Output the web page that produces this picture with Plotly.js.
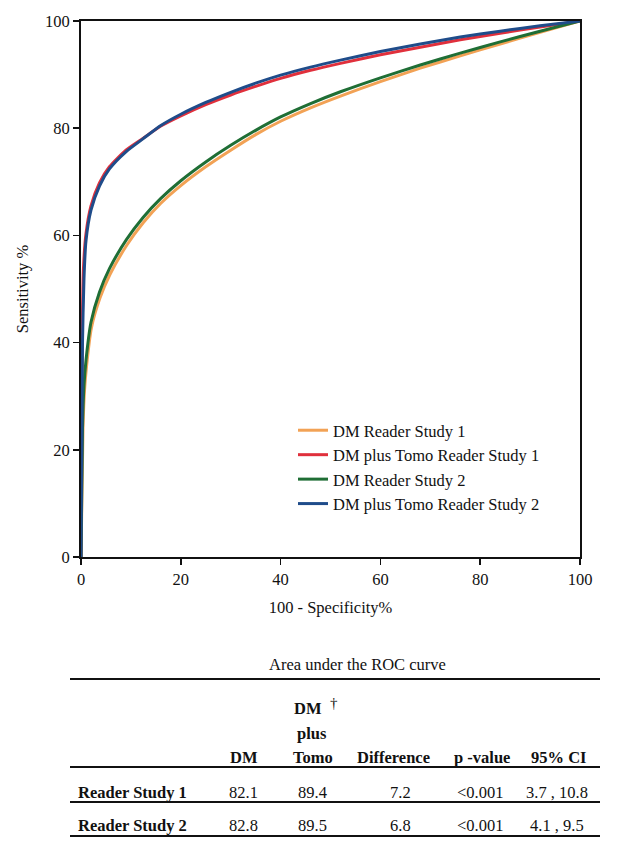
<!DOCTYPE html>
<html>
<head>
<meta charset="utf-8">
<script src="https://cdn.plot.ly/plotly-3.0.1.min.js"></script>
<style>html,body{margin:0;padding:0;background:#fff;}#chart{width:617px;height:853px;}</style>
</head>
<body>
<div id="chart"></div>
<script>
// ROC curve data (100 - specificity %, sensitivity %)
const dmRS1_x   = [0, 0.4, 0.7, 1.1, 2.1, 3.8, 5.8, 9.2, 12.5, 16, 20, 25, 30, 35, 40, 46, 52, 60, 68, 76, 84, 92, 100];
const dmRS1_y   = [0, 24, 31, 35.5, 42.8, 48.3, 52.7, 58.2, 62.4, 66.0, 69.3, 72.8, 75.9, 78.8, 81.3, 83.8, 86.0, 88.7, 91.2, 93.5, 95.7, 97.9, 100];
const tomoRS1_x = [0, 0.25, 0.5, 1.0, 2.0, 3.7, 5.7, 9.0, 12.4, 16, 20, 25, 30, 35, 40, 46, 52, 60, 68, 76, 84, 92, 100];
const tomoRS1_y = [0, 42, 54, 60.3, 65.5, 69.8, 72.8, 75.9, 78.1, 80.4, 82.3, 84.4, 86.2, 87.8, 89.3, 90.8, 92.1, 93.7, 95.1, 96.5, 97.7, 98.9, 100];
const dmRS2_x   = [0, 0.3, 0.6, 1.0, 2.0, 3.7, 5.7, 9.1, 12.4, 16, 20, 25, 30, 35, 40, 46, 52, 60, 68, 76, 84, 92, 100];
const dmRS2_y   = [0, 24, 32, 36.7, 43.8, 49.4, 53.8, 59.2, 63.3, 66.9, 70.2, 73.7, 76.8, 79.6, 82.1, 84.6, 86.8, 89.4, 91.8, 94.0, 96.1, 98.1, 100];
const tomoRS2_x = [0, 0.3, 0.6, 1.0, 2.0, 3.7, 5.7, 9.0, 12.4, 16, 20, 25, 30, 35, 40, 46, 52, 60, 68, 76, 84, 92, 100];
const tomoRS2_y = [0, 40, 52, 59.0, 64.7, 69.2, 72.4, 75.6, 78.0, 80.5, 82.6, 84.8, 86.7, 88.4, 89.9, 91.4, 92.7, 94.3, 95.7, 97.0, 98.1, 99.1, 100];

const seriesNames = ["DM Reader Study 1", "DM plus Tomo Reader Study 1", "DM Reader Study 2", "DM plus Tomo Reader Study 2"];
const axisTicks = [0, 20, 40, 60, 80, 100];

// Table data
const tableTitle = "Area under the ROC curve";
const colHeaders = ["DM", "DM plus Tomo", "Difference", "p -value", "95% CI"];
const rowLabels = ["Reader Study 1", "Reader Study 2"];
const aucDM = ["82.1", "82.8"];
const aucTomo = ["89.4", "89.5"];
const aucDiff = ["7.2", "6.8"];
const pValues = ["<0.001", "<0.001"];
const ci95 = ["3.7 , 10.8", "4.1 , 9.5"];

const FONT = "Liberation Serif, Times New Roman, serif";
const FS = 16.5;
const colors = ["#F2A255", "#E0303C", "#1F6E35", "#1F4C8A"];

const M = {l: 81, r: 37, t: 21, b: 296};
const W = 617, H = 853;
const PW = W - M.l - M.r, PH = H - M.t - M.b;
const px = x => (x - M.l) / PW;
const py = y => (H - M.b - y) / PH;

const xs = [dmRS1_x, tomoRS1_x, dmRS2_x, tomoRS2_x];
const ys = [dmRS1_y, tomoRS1_y, dmRS2_y, tomoRS2_y];
const traces = xs.map((x, i) => ({
  type: "scatter", mode: "lines", x: x, y: ys[i], name: seriesNames[i],
  legendgroup: "g" + i,
  line: {color: colors[i], width: 3, shape: "spline", smoothing: 0.6}
}));

const annotations = [];
const shapes = [];
function txt(t, x, y, opts) {
  annotations.push(Object.assign({
    text: t, xref: "paper", yref: "paper", x: px(x), y: py(y),
    xanchor: "center", yanchor: "middle", showarrow: false,
    font: {family: FONT, size: FS, color: "#111"}
  }, opts || {}));
}
function hline(y, w) {
  shapes.push({type: "line", xref: "paper", yref: "paper", x0: px(70), x1: px(600), y0: py(y), y1: py(y),
    line: {color: "#111", width: w || 2}});
}
txt(tableTitle, 357, 664);
hline(679);
const bold = s => "<b>" + s + "</b>";
const tomoParts = colHeaders[1].split(" ");
txt(bold(colHeaders[0]), 244, 757);
txt(bold(tomoParts[0]), 308, 708);
txt("†", 334, 703, {font: {family: FONT, size: 15, color: "#111"}});
txt(bold(tomoParts[1]), 312, 733);
txt(bold(tomoParts[2]), 313, 757);
txt(bold(colHeaders[2]), 393, 757);
txt(bold(colHeaders[3]), 482, 757);
txt(bold(colHeaders[4]), 558, 757);
hline(767);
const rowY = [792, 825];
const lineY = [802, 836];
rowLabels.forEach((r, i) => {
  txt(bold(r), 76, rowY[i], {xanchor: "left"});
  txt(aucDM[i], 243, rowY[i]);
  txt(aucTomo[i], 312, rowY[i]);
  txt(aucDiff[i], 400, rowY[i]);
  txt(pValues[i], 480, rowY[i]);
  txt(ci95[i], 557, rowY[i]);
  hline(lineY[i]);
});

const axisCommon = {
  range: [0, 100], tickvals: axisTicks, ticktext: axisTicks.map(String),
  showgrid: false, zeroline: false, showline: true, mirror: true,
  linecolor: "#111", linewidth: 2, ticks: "outside", ticklen: 6, tickwidth: 1.5, tickcolor: "#111",
  tickfont: {family: FONT, size: FS, color: "#111"}, fixedrange: true
};

const layout = {
  width: W, height: H, margin: M,
  paper_bgcolor: "#fff", plot_bgcolor: "#fff",
  font: {family: FONT, size: FS, color: "#111"},
  xaxis: Object.assign({}, axisCommon, {title: {text: "100 - Specificity%", standoff: 14, font: {family: FONT, size: FS, color: "#111"}}}),
  yaxis: Object.assign({}, axisCommon, {title: {text: "Sensitivity %", standoff: 12, font: {family: FONT, size: FS, color: "#111"}}}),
  showlegend: true,
  legend: {x: px(293), y: py(413), xanchor: "left", yanchor: "top", bgcolor: "rgba(0,0,0,0)",
    font: {family: FONT, size: FS, color: "#111"}, tracegroupgap: 3, traceorder: "normal"},
  annotations: annotations, shapes: shapes
};

Plotly.newPlot("chart", traces, layout, {staticPlot: true, displayModeBar: false});
</script>
</body>
</html>
